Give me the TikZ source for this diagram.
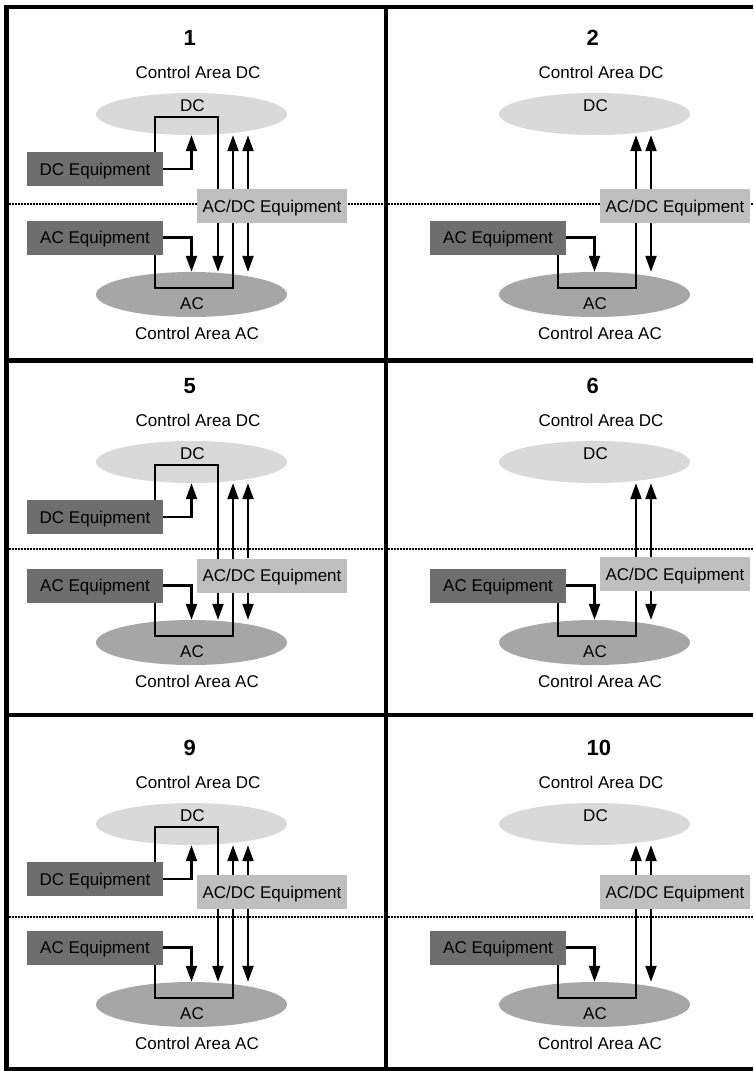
\documentclass[tikz,border=0pt]{standalone}
\usepackage{fontspec}
\setmainfont{Liberation Sans}
\usetikzlibrary{arrows.meta,shapes.geometric}
\pgfdeclarelayer{back}
\pgfdeclarelayer{mid}
\pgfsetlayers{back,mid,main}

\definecolor{dcarea}{HTML}{D9D9D9}
\definecolor{acarea}{HTML}{A6A6A6}
\definecolor{equip}{HTML}{6E6E6E}
\definecolor{conv}{HTML}{BFBFBF}

\tikzset{
  area/.style={ellipse, minimum width=191pt, minimum height=#1, inner sep=0pt, draw=none},
  lbl/.style={font=\fontsize{17}{20}\selectfont, inner sep=0pt, text height=12.2pt, text depth=0pt},
  numlbl/.style={font=\fontsize{22}{26}\selectfont\bfseries, inner sep=0pt, anchor=west, text height=15.8pt, text depth=0pt},
  eqbox/.style={lbl, fill=equip, minimum width=136pt, minimum height=34pt},
  convbox/.style={lbl, fill=conv, minimum width=150pt, minimum height=34pt},
  link/.style={line width=2.2pt, -{Triangle[length=16pt,width=11pt]}},
  sep/.style={line width=1.6pt, dash pattern=on 1.6pt off 1.4pt},
  frame/.style={line width=4.5pt, line join=miter}
}

% #1 id, #2 dx, #3 dy, #4 number, #5 AC/DC box centre y,
% #6 separator y, #7 separator start x, #8 separator end x, #9 DC equipment shown (1/0)
\newcommand\ctrlpanel[9]{%
  \begin{scope}[shift={(#2,#3)}]
    \node[numlbl] (n#1) at (183.5,38) {#4};
    \node[lbl] (cdc#1) at (198,72) {Control Area DC};
    \node[lbl] (cac#1) at (197,333) {Control Area AC};
    \begin{pgfonlayer}{back}
      \node[area=42pt, fill=dcarea] (dc#1) at (191.5,114) {};
      \node[area=45pt, fill=acarea] (ac#1) at (191.5,294.5) {};
      \draw[sep] (#7,#6) -- (#8,#6);
    \end{pgfonlayer}
    \node[lbl] (dct#1) at (192.5,105) {DC};
    \node[lbl] (act#1) at (192,303) {AC};
    \node[eqbox] (aceq#1) at (95,237.5) {AC Equipment};
    \node[convbox] (acdc#1) at (272,#5) {AC/DC Equipment};
    \ifnum#9=1
      \node[eqbox] (dceq#1) at (95,169) {DC Equipment};
    \fi
    \begin{pgfonlayer}{mid}
      \draw[link] (aceq#1.east) -| (ac#1.north);
      \coordinate (lb#1) at (233,288);
      \draw[link] ([xshift=60pt]aceq#1.south) |- (lb#1) -- (lb#1 |- dc#1.south);
      \coordinate (ru#1) at ([xshift=-24pt]acdc#1.north);
      \coordinate (rd#1) at ([xshift=-24pt]acdc#1.south);
      \draw[link] (ru#1) -- (ru#1 |- dc#1.south);
      \draw[link] (rd#1) -- (rd#1 |- ac#1.north);
      \ifnum#9=1
        \draw[link] (dceq#1.east) -| (dc#1.south);
        \coordinate (lt#1) at (218,117);
        \draw[link] ([xshift=60pt]dceq#1.north) |- (lt#1) -- (lt#1 |- ac#1.north);
      \fi
    \end{pgfonlayer}
  \end{scope}}

\begin{document}
\begin{tikzpicture}[x=1pt,y=-1pt]
  \useasboundingbox (0,0) rectangle (753,1071);
  \begin{pgfonlayer}{back}
    \fill[white] (0,0) rectangle (753,1071);
  \end{pgfonlayer}

  \ctrlpanel{1}{0}{0}{1}{206}{204}{9}{384}{1}
  \ctrlpanel{2}{403}{0}{2}{206}{204}{-15}{350}{0}
  \ctrlpanel{5}{0}{348}{5}{227.5}{201}{9}{384}{1}
  \ctrlpanel{6}{403}{348}{6}{226}{201}{-15}{350}{0}
  \ctrlpanel{9}{0}{710}{9}{182}{207}{9}{384}{1}
  \ctrlpanel{10}{403}{710}{10}{182}{207}{-15}{350}{0}

  % outer frame and grid lines
  \draw[frame] (753,7) -- (6.5,7) -- (6.5,1069.5) -- (753,1069.5);
  \draw[frame] (386,7) -- (386,1069.5);
  \draw[frame] (6.5,360.5) -- (753,360.5);
  \draw[frame] (6.5,715) -- (753,715);
\end{tikzpicture}
\end{document}
